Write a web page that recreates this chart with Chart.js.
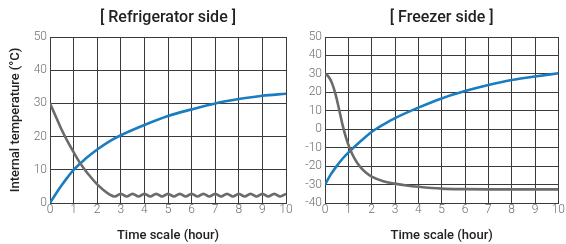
<!DOCTYPE html>
<html>
<head>
<meta charset="utf-8">
<script src="https://cdn.jsdelivr.net/npm/chart.js@4/dist/chart.umd.min.js"></script>
<style>
  html, body { margin: 0; padding: 0; background: #fff; width: 566px; height: 244px; overflow: hidden; }
  .box { position: absolute; top: 0; height: 244px; }
  #bl { left: 0; width: 300px; }
  #br { left: 290px; width: 276px; }
</style>
</head>
<body>
<div class="box" id="bl"><canvas id="c1" width="300" height="244"></canvas></div>
<div class="box" id="br"><canvas id="c2" width="276" height="244"></canvas></div>
<script>
// ---- data ----
const titleLeft = "[ Refrigerator side ]";
const titleRight = "[ Freezer side ]";
const xTitle = "Time scale (hour)";
const yTitle = "Internal temperature (°C)";

// Refrigerator side
const fridgeBlueX = [0, 0.25, 0.5, 0.75, 1, 1.5, 2, 2.5, 3, 4, 5, 6, 7, 8, 9, 10];
const fridgeBlueY = [0, 2.8, 5.4, 7.8, 10, 13.3, 16.1, 18.5, 20.4, 23.5, 26.2, 28.2, 30, 31.3, 32.3, 32.9];
const fridgeGrayX = [0, 0.25, 0.5, 0.75, 1, 1.25, 1.5, 1.75, 2, 2.25, 2.5, 2.75,
  3, 3.25, 3.5, 3.75, 4, 4.25, 4.5, 4.75, 5, 5.25, 5.5, 5.75, 6, 6.25, 6.5, 6.75,
  7, 7.25, 7.5, 7.75, 8, 8.25, 8.5, 8.75, 9, 9.25, 9.5, 9.75, 10];
const fridgeGrayY = [30, 26, 22, 18.5, 15.3, 12.3, 9.8, 7.6, 5.6, 4, 2.7, 1.95,
  2.75, 1.95, 2.75, 1.95, 2.75, 1.95, 2.75, 1.95, 2.75, 1.95, 2.75, 1.95, 2.75, 1.95, 2.75, 1.95,
  2.75, 1.95, 2.75, 1.95, 2.75, 1.95, 2.75, 1.95, 2.75, 1.95, 2.75, 1.95, 2.75];

// Freezer side
const freezerBlueX = [0, 0.25, 0.5, 0.75, 1, 1.5, 2, 2.5, 3, 4, 5, 6, 7, 8, 9, 10];
const freezerBlueY = [-30, -24.5, -20, -16, -12.7, -6.8, -1.5, 2.5, 6, 11.7, 16.7, 20.7, 24, 26.7, 28.6, 30.3];
const freezerGrayX = [0, 0.15, 0.3, 0.45, 0.6, 0.75, 0.9, 1.05, 1.25, 1.5, 1.75, 2, 2.5, 3, 3.5, 4, 5, 6, 7, 8, 9, 10];
const freezerGrayY = [30, 28.5, 25, 19, 11, 2.5, -4.5, -10, -15.5, -20.3, -23.5, -25.7, -28.2, -29.5, -30.5, -31.2, -32.2, -32.5, -32.6, -32.6, -32.6, -32.6];

const xTicks = [0, 1, 2, 3, 4, 5, 6, 7, 8, 9, 10];
const fridgeYRange = [0, 50];
const freezerYRange = [-40, 50];

// ---- styles ----
const BLUE = '#1a7dc2';
const GRAY = '#6b6b6b';
const GRID = '#3a3a3a';
const TICK = '#6e6e6e';
const FONT = 'Roboto, "DejaVu Sans", sans-serif';

function pts(xs, ys) { return xs.map((x, i) => ({ x: x, y: ys[i] })); }

const plotTitle = {
  id: 'plotTitle',
  afterDraw(chart, args, opts) {
    const { ctx, chartArea } = chart;
    ctx.save();
    ctx.font = '500 16px ' + FONT;
    ctx.fillStyle = '#222';
    ctx.textAlign = 'center';
    ctx.textBaseline = 'middle';
    ctx.fillText(opts.text, (chartArea.left + chartArea.right) / 2, 18);
    ctx.restore();
  }
};

function makeChart(id, grayPts, bluePts, yr, yWidth, padRight, title, showYTitle) {
  return new Chart(document.getElementById(id), {
    type: 'line',
    data: {
      datasets: [
        { data: grayPts, borderColor: GRAY, borderWidth: 2.6, pointRadius: 0, cubicInterpolationMode: 'monotone', fill: false },
        { data: bluePts, borderColor: BLUE, borderWidth: 2.6, pointRadius: 0, cubicInterpolationMode: 'monotone', fill: false }
      ]
    },
    options: {
      responsive: false,
      animation: false,
      layout: { padding: { top: 37, right: padRight, bottom: 0, left: 0 } },
      plugins: { legend: { display: false }, tooltip: { enabled: false }, plotTitle: { text: title } },
      scales: {
        x: {
          type: 'linear', min: 0, max: 10,
          afterFit: s => { s.height = 41; },
          afterBuildTicks: s => { s.ticks = xTicks.map(v => ({ value: v })); },
          grid: { color: GRID, lineWidth: 1, drawTicks: false },
          border: { color: GRID, width: 1 },
          ticks: { color: TICK, padding: 1, font: { family: FONT, size: 12, weight: '300', lineHeight: 1 } },
          title: { display: true, text: xTitle, color: '#222', padding: { top: 0, bottom: 0 }, font: { family: FONT, size: 13, weight: '500' } }
        },
        y: {
          min: yr[0], max: yr[1],
          afterFit: s => { s.width = yWidth; },
          ticks: { stepSize: 10, color: TICK, padding: 3, font: { family: FONT, size: 12, weight: '300' } },
          grid: { color: GRID, lineWidth: 1, drawTicks: false },
          border: { color: GRID, width: 1 },
          title: { display: showYTitle, text: yTitle, color: '#222', padding: { top: 8, bottom: 0 }, font: { family: FONT, size: 13, weight: '500' } }
        }
      }
    },
    plugins: [plotTitle]
  });
}

makeChart('c1', pts(fridgeGrayX, fridgeGrayY), pts(fridgeBlueX, fridgeBlueY), fridgeYRange, 50, 14, titleLeft, true);
makeChart('c2', pts(freezerGrayX, freezerGrayY), pts(freezerBlueX, freezerBlueY), freezerYRange, 35, 6, titleRight, false);
</script>
</body>
</html>
